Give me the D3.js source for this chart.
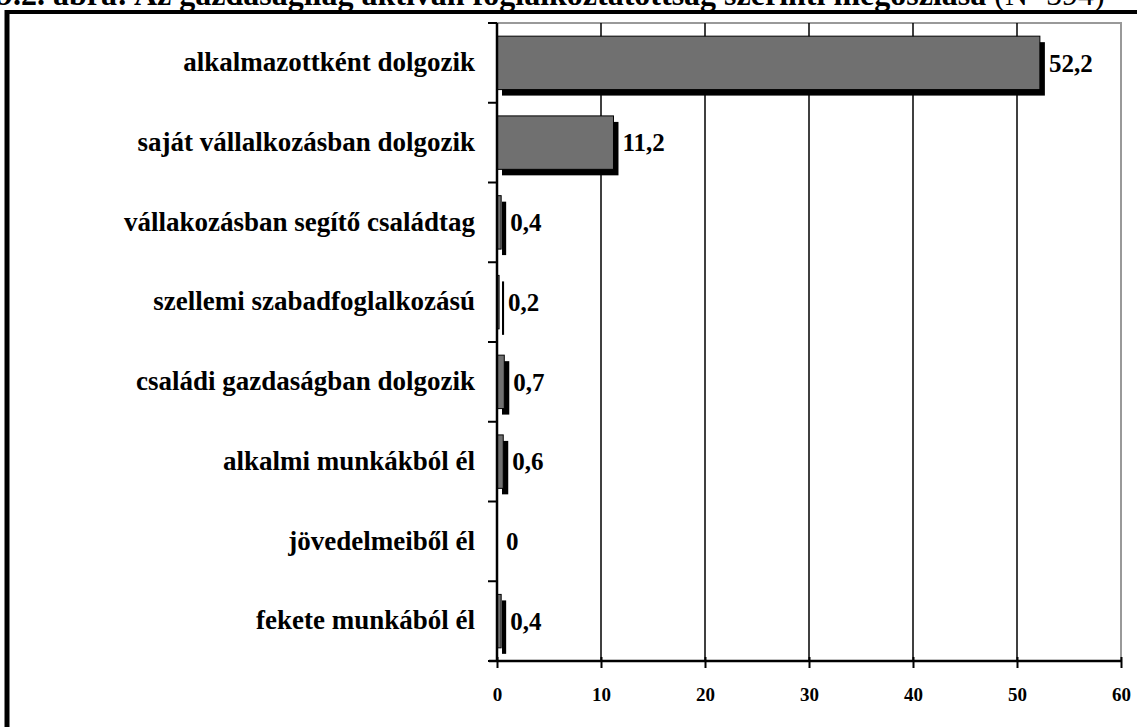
<!DOCTYPE html>
<html>
<head>
<meta charset="utf-8">
<script src="https://cdn.jsdelivr.net/npm/d3@7"></script>
<style>
  html, body { margin: 0; padding: 0; background: #fff; overflow: hidden; }
  svg { display: block; }
  text { font-family: "Liberation Serif", "Times New Roman", serif; }
</style>
</head>
<body>
<svg id="chart" width="1137" height="727"></svg>
<script>
// Foglalkoztatottság szerinti megoszlás (%)
const categories = [
  "alkalmazottként dolgozik",
  "saját vállalkozásban dolgozik",
  "vállakozásban segítő családtag",
  "szellemi szabadfoglalkozású",
  "családi gazdaságban dolgozik",
  "alkalmi munkákból él",
  "jövedelmeiből él",
  "fekete munkából él"
];
const values = [52.2, 11.2, 0.4, 0.2, 0.7, 0.6, 0, 0.4];
const valueLabels = ["52,2", "11,2", "0,4", "0,2", "0,7", "0,6", "0", "0,4"];
const xTicks = [0, 10, 20, 30, 40, 50, 60];

const titleMain = "9.2. ábra: Az gazdaságilag aktívan foglalkoztatottság szerinti megoszlása ";
const titleN = "(N=594)";

const svg = d3.select("#chart");

const plot = { left: 497, right: 1121, top: 23, bottom: 661 };

const x = d3.scaleLinear().domain([0, 60]).range([plot.left, plot.right]);
const y = d3.scaleBand().domain(categories).range([plot.top, plot.bottom]).paddingInner(0.33).paddingOuter(0.165);
const yOuter = d3.scaleBand().domain(categories).range([plot.top, plot.bottom]);

// Title (runs off the top of the page)
const title = svg.append("text")
  .attr("x", -3).attr("y", 5)
  .attr("font-size", 32)
  .attr("fill", "#000");
title.append("tspan").attr("font-weight", "bold").text(titleMain);
title.append("tspan").attr("font-weight", "normal").text(titleN);

// Outer frame
svg.append("line").attr("x1", 5).attr("x2", 1137).attr("y1", 12).attr("y2", 12)
  .attr("stroke", "#000").attr("stroke-width", 4);
svg.append("line").attr("x1", 7).attr("x2", 7).attr("y1", 10).attr("y2", 727)
  .attr("stroke", "#000").attr("stroke-width", 5);

// Plot area border
svg.append("rect")
  .attr("x", plot.left).attr("y", plot.top)
  .attr("width", plot.right - plot.left).attr("height", plot.bottom - plot.top)
  .attr("fill", "none").attr("stroke", "#999").attr("stroke-width", 2);

// Vertical gridlines
svg.append("g").selectAll("line")
  .data(xTicks.filter(d => d > 0 && d < 60))
  .join("line")
  .attr("x1", d => x(d)).attr("x2", d => x(d))
  .attr("y1", plot.top).attr("y2", plot.bottom)
  .attr("stroke", "#000").attr("stroke-width", 1.5);

// Bar shadows
const dx = 5, dy = 6;
svg.append("g").selectAll("rect")
  .data(categories.map((c, i) => ({ c, v: values[i] })).filter(d => d.v > 0))
  .join("rect")
  .attr("x", x(0) + dx)
  .attr("y", d => y(d.c) + dy)
  .attr("width", d => x(d.v) - x(0))
  .attr("height", y.bandwidth())
  .attr("fill", "#000");

// Bars
svg.append("g").selectAll("rect")
  .data(categories.map((c, i) => ({ c, v: values[i] })).filter(d => d.v > 0))
  .join("rect")
  .attr("x", x(0))
  .attr("y", d => y(d.c))
  .attr("width", d => x(d.v) - x(0))
  .attr("height", y.bandwidth())
  .attr("fill", "#707070")
  .attr("stroke", "#000").attr("stroke-width", 1);

// Value labels
svg.append("g").selectAll("text")
  .data(categories.map((c, i) => ({ c, v: values[i], t: valueLabels[i] })))
  .join("text")
  .attr("x", d => x(d.v) + dx + 4)
  .attr("y", d => y(d.c) + y.bandwidth() / 2 + 3)
  .attr("dominant-baseline", "middle")
  .attr("font-size", 25).attr("font-weight", "bold")
  .text(d => d.t);

// Y axis
const yAxis = svg.append("g").attr("transform", `translate(${plot.left},0)`);
yAxis.append("line").attr("x1", 0).attr("x2", 0).attr("y1", plot.top).attr("y2", plot.bottom)
  .attr("stroke", "#000").attr("stroke-width", 2.5);
yAxis.selectAll("line.tick")
  .data(categories.concat(["__end"]))
  .join("line").attr("class", "tick")
  .attr("x1", -9).attr("x2", 0)
  .attr("y1", (d, i) => i < categories.length ? yOuter(d) : plot.bottom)
  .attr("y2", (d, i) => i < categories.length ? yOuter(d) : plot.bottom)
  .attr("stroke", "#000").attr("stroke-width", 2);
yAxis.selectAll("text")
  .data(categories)
  .join("text")
  .attr("x", -22)
  .attr("y", d => yOuter(d) + yOuter.bandwidth() / 2 + 2)
  .attr("dominant-baseline", "middle")
  .attr("text-anchor", "end")
  .attr("font-size", 27).attr("font-weight", "bold")
  .text(d => d);

// X axis
const xAxis = svg.append("g").attr("transform", `translate(0,${plot.bottom})`)
  .call(d3.axisBottom(x).tickValues(xTicks).tickSize(7).tickPadding(20).tickSizeOuter(0));
xAxis.select(".domain").attr("stroke", "#000").attr("stroke-width", 2.5)
  .attr("d", `M${plot.left - 8},0H${plot.right}`);
xAxis.selectAll(".tick line").attr("stroke", "#000").attr("stroke-width", 2).attr("y1", -4);
xAxis.selectAll(".tick text")
  .attr("font-family", "'Liberation Serif', 'Times New Roman', serif")
  .attr("font-size", 19).attr("font-weight", "bold").attr("fill", "#000");
</script>
</body>
</html>
